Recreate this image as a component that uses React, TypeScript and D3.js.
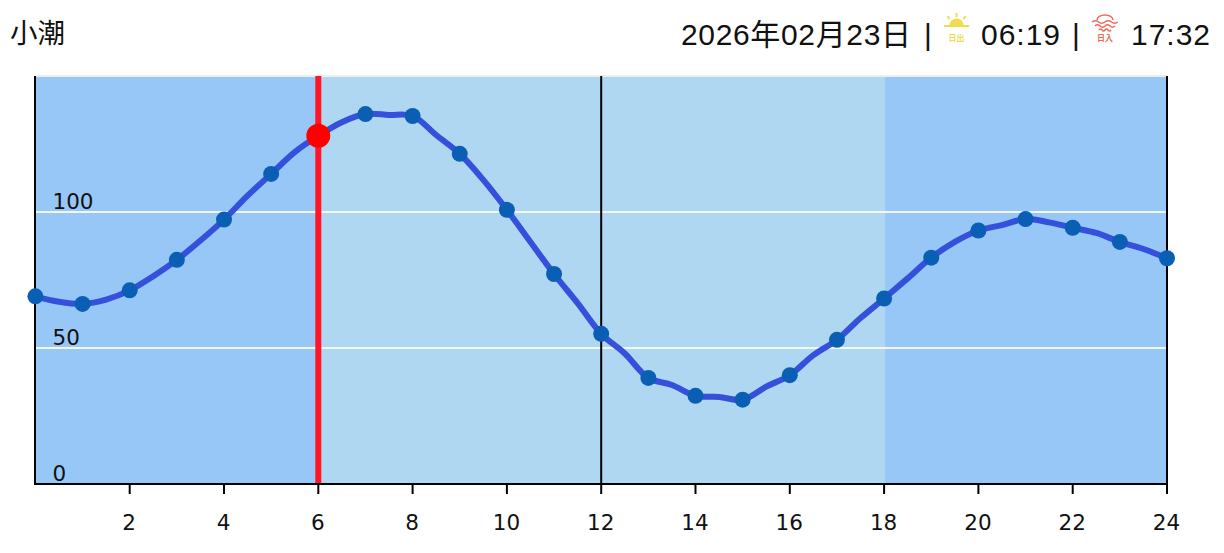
import React from "react";
import * as d3 from "d3";

const W = 1224, H = 553;
const halfHours = d3.range(0, 24.5, 0.5);
const levels = [
  69, 67, 66.2, 67.8, 71.2, 76.4, 82.4, 89.5, 97.2, 106, 114, 122, 128, 133, 136, 135.7, 135.3, 128.3, 121.4, 111.8,
  100.8, 89, 77.2, 66.5, 55.2, 48, 39, 36.4, 32.4, 32, 31, 35.8, 40, 47.4, 53, 61, 68.2, 75.6, 83.2, 89, 93.2, 95.2, 97.4,
  96.2, 94.2, 92.3, 89, 86.4, 83,
];
const xTicks = [2, 4, 6, 8, 10, 12, 14, 16, 18, 20, 22, 24];
const yTicks = [0, 50, 100];
const bands = [
  { from: 0, to: 6, fill: "#97c7f7" },
  { from: 6, to: 18.02, fill: "#afd7f1" },
  { from: 18.02, to: 24, fill: "#97c7f7" },
];
const nowHour = 6;
const nowLevel = 128;
const noonHour = 12;
const tideName = "小潮";
const dateText = "2026年02月23日";
const sunrise = "06:19";
const sunset = "17:32";

const x = d3.scaleLinear().domain([0, 24]).range([35.4, 1167]);
const y = d3.scaleLinear().domain([0, 150]).range([484, 76]);
const pts = halfHours.map((h, i) => ({ h, v: levels[i] }));
const hourly = pts.filter((p) => Number.isInteger(p.h));
const line = d3.line<{ h: number; v: number }>().x((d) => x(d.h)).y((d) => y(d.v)).curve(d3.curveCatmullRom.alpha(0.5));

const headFont = "'Liberation Sans','Noto Sans CJK JP',sans-serif";
const axisFont = "'DejaVu Sans',sans-serif";

function SunIcon({ cx }: { cx: number }) {
  const c = "#f0dc50";
  return (
    <g>
      <path d={`M${cx - 7},25.5 A7,7 0 0 1 ${cx + 7},25.5 Z`} fill={c} />
      <rect x={cx - 12.5} y={25} width={25} height={2} fill={c} />
      <g stroke={c} strokeWidth={2}>
        <line x1={cx} y1={13} x2={cx} y2={17} />
        <line x1={cx - 9} y1={16} x2={cx - 7} y2={19} />
        <line x1={cx + 9} y1={16} x2={cx + 7} y2={19} />
      </g>
      <text x={cx} y={41} textAnchor="middle" fontSize={8} fontWeight={700} fill={c} fontFamily="'Noto Sans CJK JP'">日出</text>
    </g>
  );
}

function SetIcon({ cx }: { cx: number }) {
  const c = "#ee6a58";
  return (
    <g fill="none" stroke={c} strokeWidth={1.5}>
      <path d={`M${cx - 8},20 A8,5 0 0 1 ${cx + 8},20`} />
      <path d={`M${cx - 13},22 q3.2,-2.4 6.5,0 t6.5,0 t6.5,0 t6.5,0`} />
      <path d={`M${cx - 10},26 q2.5,-2.4 5,0 t5,0 t5,0 t5,0`} />
      <path d={`M${cx - 6},30 q1.5,-2 3,0 t3,0 t3,0 t3,0`} />
      <text x={cx} y={41} textAnchor="middle" fontSize={8} fontWeight={700} fill={c} stroke="none" fontFamily="'Noto Sans CJK JP'">日入</text>
    </g>
  );
}

export default function App() {
  return (
    <svg width={W} height={H} viewBox={`0 0 ${W} ${H}`} style={{ position: "absolute", left: 0, top: 0, display: "block" }}>
      <rect width={W} height={H} fill="#fff" />
      <text x={10} y={43} fontSize={27.5} fontFamily={headFont} fill="#111">{tideName}</text>
      <text x={681} y={45} fontSize={30} fontFamily={headFont} fill="#111" textLength={230}>{dateText}</text>
      <text x={924} y={45} fontSize={30} fontFamily={headFont} fill="#111">|</text>
      <SunIcon cx={956.5} />
      <text x={981} y={45} fontSize={30} fontFamily={headFont} fill="#111" textLength={79}>{sunrise}</text>
      <text x={1072} y={45} fontSize={30} fontFamily={headFont} fill="#111">|</text>
      <SetIcon cx={1105} />
      <text x={1131} y={45} fontSize={30} fontFamily={headFont} fill="#111" textLength={79}>{sunset}</text>

      {bands.map((b) => (
        <rect key={b.from} x={x(b.from)} y={y(150)} width={x(b.to) - x(b.from)} height={y(0) - y(150)} fill={b.fill} />
      ))}
      <line x1={x(0)} x2={x(24)} y1={y(150)} y2={y(150)} stroke="#eeeeee" strokeWidth={2} />
      {yTicks.filter((t) => t > 0).map((t) => (
        <line key={t} x1={x(0)} x2={x(24)} y1={y(t)} y2={y(t)} stroke="#f4f7fa" strokeWidth={2} />
      ))}
      <line x1={x(nowHour)} x2={x(nowHour)} y1={y(150)} y2={y(0)} stroke="#ff1428" strokeWidth={6} />
      <line x1={x(noonHour)} x2={x(noonHour)} y1={y(150)} y2={y(0)} stroke="#000" strokeWidth={2} />
      <line x1={35} x2={35} y1={y(150)} y2={y(0)} stroke="#000" strokeWidth={2} />
      <line x1={x(24)} x2={x(24)} y1={y(150)} y2={y(0)} stroke="#000" strokeWidth={2} />
      <line x1={34} x2={x(24) + 1} y1={y(0)} y2={y(0)} stroke="#000" strokeWidth={2} />
      {xTicks.map((t) => (
        <g key={t}>
          <line x1={x(t)} x2={x(t)} y1={y(0)} y2={y(0) + 10} stroke="#000" strokeWidth={2} />
          <text x={x(t) - 0.5} y={530} textAnchor="middle" fontSize={21.5} fontFamily={axisFont} fill="#111">{t}</text>
        </g>
      ))}
      {yTicks.map((t) => (
        <text key={t} x={52.5} y={y(t) - 3.5} fontSize={21.5} fontFamily={axisFont} fill="#111">{t}</text>
      ))}

      <path d={line(pts) ?? ""} fill="none" stroke="#3551db" strokeWidth={6} strokeLinejoin="round" />
      {hourly.map((p) => (
        <circle key={p.h} cx={x(p.h)} cy={y(p.v)} r={8} fill="#0a5fb4" />
      ))}
      <circle cx={x(nowHour)} cy={y(nowLevel)} r={12} fill="#ff0000" />
    </svg>
  );
}
